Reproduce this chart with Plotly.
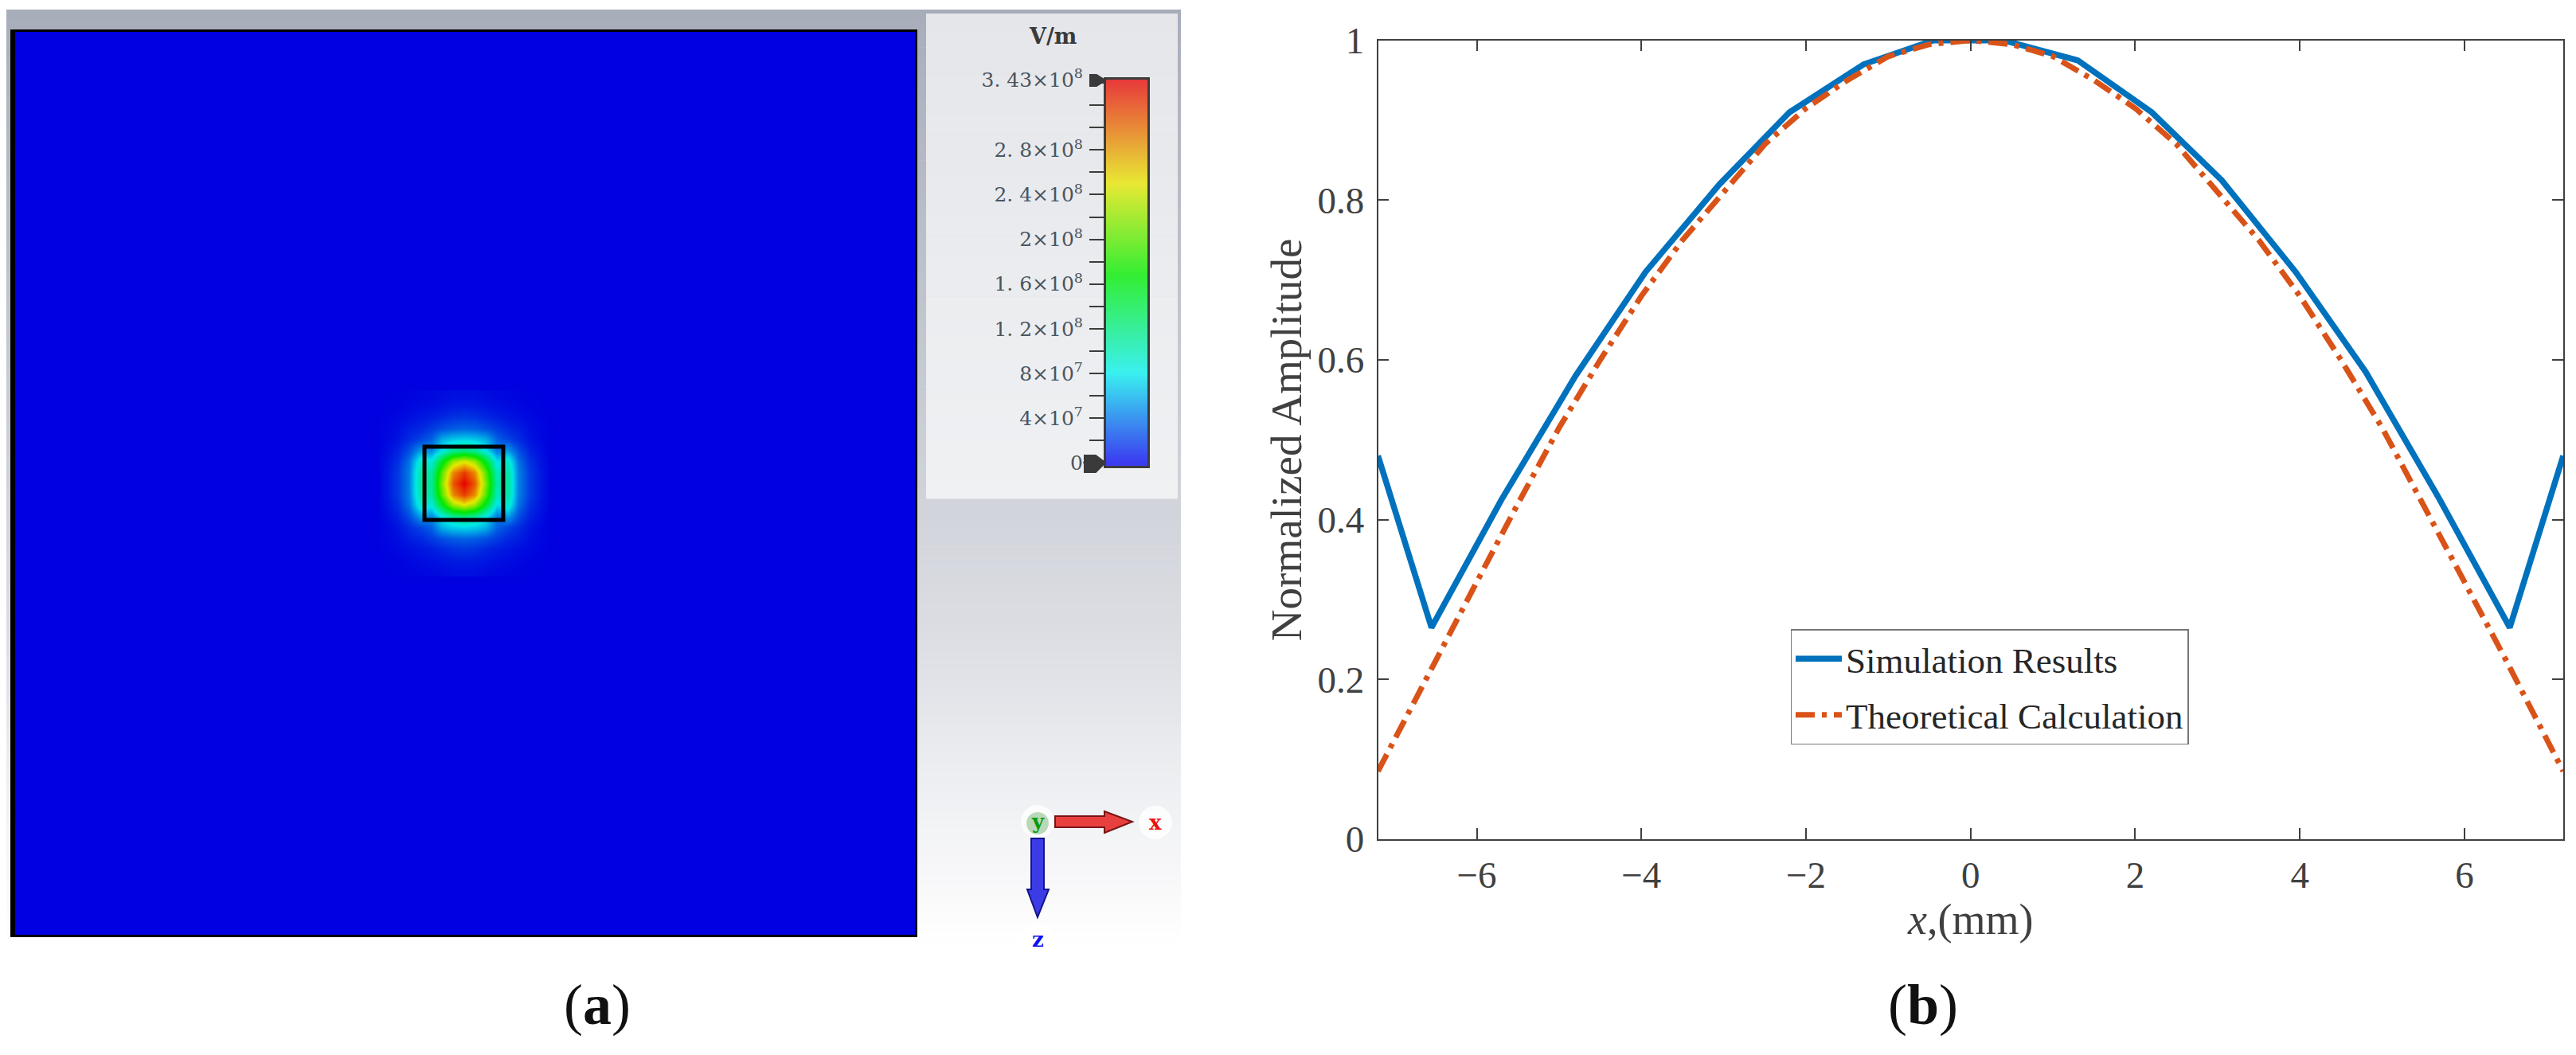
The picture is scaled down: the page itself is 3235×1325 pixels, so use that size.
import plotly.graph_objects as go

W, H = 3235, 1325
def PX(p): return p / W
def PY(p): return 1 - p / H

# ---------- panel (b) data ----------
sim_x = [-7.2, -6.55, -5.7, -4.8, -3.95, -3.05, -2.2, -1.3, -0.45, 0.4, 1.3, 2.2, 3.05, 3.95, 4.8, 5.7, 6.55, 7.2]
sim_y = [0.48, 0.265, 0.425, 0.58, 0.71, 0.82, 0.91, 0.97, 1.0, 1.0, 0.975, 0.91, 0.825, 0.71, 0.585, 0.425, 0.265, 0.48]
theo_x = [-7.2, -6.5, -6, -5.5, -5, -4.5, -4, -3.5, -3, -2.5, -2, -1.5, -1, -0.5, 0,
          0.5, 1, 1.5, 2, 2.5, 3, 3.5, 4, 4.5, 5, 5.5, 6, 6.5, 7.2]
theo_y = [0.085, 0.225, 0.322, 0.42, 0.515, 0.60, 0.68, 0.75, 0.81, 0.87, 0.915, 0.95, 0.98, 0.995, 1.0,
          0.995, 0.98, 0.95, 0.915, 0.87, 0.81, 0.75, 0.68, 0.60, 0.515, 0.42, 0.322, 0.225, 0.085]
x_ticks = [-6, -4, -2, 0, 2, 4, 6]
x_labels = ["\u22126", "\u22124", "\u22122", "0", "2", "4", "6"]
y_ticks = [0, 0.2, 0.4, 0.6, 0.8, 1]
y_labels = ["0", "0.2", "0.4", "0.6", "0.8", "1"]

# ---------- panel (a) data: normalized field, 2 mm grid ----------
field_x = [-16, -14, -12, -10, -8, -6, -4, -2, 0, 2, 4, 6, 8, 10, 12, 14, 16]
field_y = [-16, -14, -12, -10, -8, -6, -4, -2, 0, 2, 4, 6, 8, 10, 12, 14, 16]
field_z = [
 [0,.001,.002,.004,.006,.008,.011,.014,.015,.014,.011,.008,.006,.004,.002,.001,0],
 [0,.002,.004,.008,.012,.016,.022,.027,.03,.027,.022,.016,.012,.008,.004,.002,0],
 [0,.004,.008,.015,.022,.03,.04,.052,.055,.052,.04,.03,.022,.015,.008,.004,0],
 [0,.007,.014,.03,.04,.06,.08,.095,.10,.095,.08,.06,.04,.03,.014,.007,0],
 [0,.008,.02,.045,.07,.10,.18,.21,.22,.21,.18,.10,.07,.045,.02,.008,0],
 [0,.014,.035,.08,.16,.14,.24,.33,.36,.33,.24,.12,.16,.08,.035,.014,0],
 [0,.02,.05,.115,.27,.25,.45,.65,.72,.65,.45,.22,.27,.115,.05,.02,0],
 [0,.024,.06,.13,.31,.31,.58,.84,.93,.84,.58,.28,.31,.13,.06,.024,0],
 [0,.025,.06,.13,.32,.33,.62,.90,1.0,.90,.62,.30,.32,.13,.06,.025,0],
 [0,.024,.06,.13,.31,.31,.58,.84,.93,.84,.58,.28,.31,.13,.06,.024,0],
 [0,.02,.05,.115,.27,.25,.45,.65,.72,.65,.45,.22,.27,.115,.05,.02,0],
 [0,.014,.035,.08,.16,.14,.24,.33,.36,.33,.24,.12,.16,.08,.035,.014,0],
 [0,.008,.02,.045,.07,.10,.18,.21,.22,.21,.18,.10,.07,.045,.02,.008,0],
 [0,.007,.014,.03,.04,.06,.08,.095,.10,.095,.08,.06,.04,.03,.014,.007,0],
 [0,.004,.008,.015,.022,.03,.04,.052,.055,.052,.04,.03,.022,.015,.008,.004,0],
 [0,.002,.004,.008,.012,.016,.022,.027,.03,.027,.022,.016,.012,.008,.004,.002,0],
 [0,.001,.002,.004,.006,.008,.011,.014,.015,.014,.011,.008,.006,.004,.002,.001,0],
]
aperture_x = [-7.2, 7.2]
aperture_y = [-6.7, 6.7]

# ---------- colour bar data ----------
bar_levels = [0, 3.43e8]
bar_ticks = [0, 4e7, 8e7, 1.2e8, 1.6e8, 2e8, 2.4e8, 2.8e8, 3.43e8]
bar_labels = ["0", "4\u00d710<sup>7</sup>", "8\u00d710<sup>7</sup>", "1. 2\u00d710<sup>8</sup>",
              "1. 6\u00d710<sup>8</sup>", "2\u00d710<sup>8</sup>", "2. 4\u00d710<sup>8</sup>",
              "2. 8\u00d710<sup>8</sup>", "3. 43\u00d710<sup>8</sup>"]

field_scale = [[0, "#0000e0"], [.235, "#00e8e8"], [.49, "#00e800"], [.73, "#e8e800"], [1, "#e80000"]]
bar_scale = [[0, "#3b3bf0"], [.235, "#3af0f0"], [.49, "#33ee33"], [.73, "#e8e833"], [1, "#e83a3a"]]

fig = go.Figure()

fig.add_trace(go.Heatmap(x=field_x, y=field_y, z=field_z, zmin=0, zmax=1, zsmooth="best",
                         colorscale=field_scale, showscale=False, xaxis="x", yaxis="y", hoverinfo="skip"))
fig.add_trace(go.Heatmap(x=[0, 1], y=bar_levels, z=[[v, v] for v in bar_levels], zmin=0, zmax=3.43e8,
                         zsmooth="best", colorscale=bar_scale, showscale=False, xaxis="x2", yaxis="y2", hoverinfo="skip"))
fig.add_trace(go.Scatter(x=sim_x, y=sim_y, mode="lines", name="Simulation Results", legendgroup="a",
                         line=dict(color="#0072BD", width=7.5), xaxis="x3", yaxis="y3"))
fig.add_trace(go.Scatter(x=theo_x, y=theo_y, mode="lines", name="Theoretical Calculation", legendgroup="b",
                         line=dict(color="#D95319", width=7, dash="24px,9px,6px,9px"), xaxis="x3", yaxis="y3"))

shapes = []
def lerp(c1, c2, t):
    return tuple(round(a + (b - a) * t) for a, b in zip(c1, c2))
def bands(x0, x1, stops, n):
    for i in range(n):
        y0 = stops[0][0] + (stops[-1][0] - stops[0][0]) * i / n
        y1 = stops[0][0] + (stops[-1][0] - stops[0][0]) * (i + 1) / n
        m = (y0 + y1) / 2
        for (a, ca), (b, cb) in zip(stops, stops[1:]):
            if a <= m <= b:
                c = lerp(ca, cb, (m - a) / (b - a))
                break
        shapes.append(dict(type="rect", xref="paper", yref="paper", layer="below",
                           x0=PX(x0), x1=PX(x1), y0=PY(y0), y1=PY(y1 + 0.5),
                           fillcolor="rgb(%d,%d,%d)" % c, line_width=0))
bands(8, 1483, [(12, (168, 173, 186)), (625, (208, 211, 218)), (800, (220, 222, 227)),
                (1000, (239, 240, 243)), (1195, (255, 255, 255))], 100)
bands(1163, 1479, [(17, (229, 230, 234)), (626, (240, 241, 243))], 24)
# solver background (zero field)
shapes.append(dict(type="rect", xref="paper", yref="paper", layer="below", x0=PX(16), x1=PX(1149),
                   y0=PY(1174), y1=PY(40), fillcolor="#0000e0", line_width=0))
# heavier left border of the field view
shapes.append(dict(type="line", xref="paper", yref="paper", x0=PX(16), x1=PX(16), y0=PY(1174), y1=PY(40),
                   line=dict(color="black", width=6)))

# aperture outline
shapes.append(dict(type="rect", xref="x", yref="y", x0=aperture_x[0], x1=aperture_x[1],
                   y0=aperture_y[0], y1=aperture_y[1], line=dict(color="black", width=5)))

# orientation gizmo and colour-bar pointers
def poly(pts, fill, edge):
    p = "M " + " L ".join(f"{PX(a):.5f},{PY(b):.5f}" for a, b in pts) + " Z"
    shapes.append(dict(type="path", xref="paper", yref="paper", path=p, fillcolor=fill, line=dict(color=edge, width=2)))
def circ(cx, cy, r, fill):
    shapes.append(dict(type="circle", xref="paper", yref="paper", x0=PX(cx - r), x1=PX(cx + r),
                       y0=PY(cy + r), y1=PY(cy - r), fillcolor=fill, line_width=0))
circ(1303, 1032, 21, "rgba(255,255,255,0.75)")
circ(1451, 1033, 21, "rgba(255,255,255,0.8)")
circ(1303, 1181, 21, "rgba(255,255,255,0.8)")
circ(1303, 1034, 14, "#b9d8b9")
poly([(1325, 1025), (1387, 1025), (1387, 1019), (1422, 1032), (1387, 1046), (1387, 1039), (1325, 1039)], "#e8403f", "#7a1515")
poly([(1295, 1053), (1311, 1053), (1311, 1117), (1317, 1117), (1303, 1152), (1290, 1117), (1295, 1117)], "#3c3ce6", "#14148a")
poly([(1369, 94), (1377, 94), (1388, 101), (1377, 108), (1369, 108)], "#3a3a3a", "#3a3a3a")
poly([(1361, 580), (1362, 581), (1362, 572), (1376, 572), (1388, 581), (1376, 593), (1362, 593), (1362, 583)], "#3a3a3a", "#3a3a3a")

ann = [
    dict(text="V/m", x=PX(1322), y=PY(46), font=dict(family="DejaVu Serif", size=27, color="#3a3a3a"), bold=True),
    dict(text="y", x=PX(1303), y=PY(1032), font=dict(family="DejaVu Serif", size=26, color="#0a9a0a"), bold=True),
    dict(text="x", x=PX(1451), y=PY(1033), font=dict(family="DejaVu Serif", size=26, color="#ee1010"), bold=True),
    dict(text="z", x=PX(1303), y=PY(1180), font=dict(family="DejaVu Serif", size=26, color="#1010ee"), bold=True),
    dict(text="(<b>a</b>)", x=PX(750), y=PY(1262), font=dict(family="Liberation Serif", size=72, color="#111111")),
    dict(text="(<b>b</b>)", x=PX(2415), y=PY(1262), font=dict(family="Liberation Serif", size=72, color="#111111")),
]
annotations = []
for a in ann:
    a = dict(a)
    if a.pop("bold", False):
        a["text"] = "<b>" + a["text"] + "</b>"
    annotations.append(dict(xref="paper", yref="paper", showarrow=False, xanchor="center", yanchor="middle", **a))

axis_dark = "#404040"
serif = "Liberation Serif"
fig.update_layout(
    template="none",
    width=W, height=H, autosize=False, margin=dict(l=0, r=0, t=0, b=0, autoexpand=False),
    paper_bgcolor="white", plot_bgcolor="rgba(0,0,0,0)", shapes=shapes, annotations=annotations,
    font=dict(family=serif),
    xaxis=dict(domain=[PX(16), PX(1149)], range=[-82.5, 82.5], showticklabels=False, ticks="", showgrid=False, automargin=False,
               zeroline=False, showline=True, mirror=True, linecolor="black", linewidth=3, anchor="y"),
    yaxis=dict(domain=[PY(1174), PY(40)], range=[-82.5, 82.5], showticklabels=False, ticks="", showgrid=False, automargin=False,
               zeroline=False, showline=True, mirror=True, linecolor="black", linewidth=3, anchor="x"),
    xaxis2=dict(domain=[PX(1389), PX(1441)], range=[0, 1], showticklabels=False, ticks="", showgrid=False, automargin=False,
                zeroline=False, showline=True, mirror=True, linecolor="#3c3c3c", linewidth=3, anchor="y2"),
    yaxis2=dict(domain=[PY(585), PY(100)], range=[-2.8e6, 3.43e8], tickvals=bar_ticks, ticktext=bar_labels, automargin=False,
                ticks="outside", ticklen=18, tickwidth=2, tickcolor="#3c3c3c", showgrid=False, zeroline=False,
                minor=dict(tick0=0, dtick=2e7, ticks="outside", ticklen=18, tickwidth=2, tickcolor="#3c3c3c", showgrid=False),
                tickfont=dict(family="DejaVu Serif", size=25, color="#4a5560"), ticklabelstandoff=3,
                showline=True, mirror=True, linecolor="#3c3c3c", linewidth=3, anchor="x2"),
    xaxis3=dict(domain=[PX(1730.5), PX(3219)], range=[-7.2, 7.2], tickvals=x_ticks, ticktext=x_labels, automargin=False,
                ticks="inside", ticklen=14, tickwidth=1.5, tickcolor=axis_dark, showgrid=False, zeroline=False,
                showline=True, mirror="ticks", linecolor=axis_dark, linewidth=1.5, anchor="y3",
                tickfont=dict(family=serif, size=47, color=axis_dark), ticklabelstandoff=3,
                title=dict(text="<i>x</i>,(mm)", font=dict(family=serif, size=54, color=axis_dark), standoff=10)),
    yaxis3=dict(domain=[PY(1054), PY(50.7)], range=[0, 1], tickvals=y_ticks, ticktext=y_labels, automargin=False,
                ticks="inside", ticklen=14, tickwidth=1.5, tickcolor=axis_dark, showgrid=False, zeroline=False,
                showline=True, mirror="ticks", linecolor=axis_dark, linewidth=1.5, anchor="x3",
                tickfont=dict(family=serif, size=47, color=axis_dark), ticklabelstandoff=6,
                title=dict(text="Normalized Amplitude", font=dict(family=serif, size=55, color=axis_dark), standoff=2)),
    showlegend=True,
    legend=dict(x=PX(2248.5), y=PY(790), xanchor="left", yanchor="top", bgcolor="white", bordercolor="#777777",
                borderwidth=1.5, itemwidth=58, traceorder="grouped", tracegroupgap=9,
                font=dict(family=serif, size=45, color="#262626")),
)

fig.write_html("out.html", config={"displayModeBar": False}, post_script="document.body.style.margin='0';")
